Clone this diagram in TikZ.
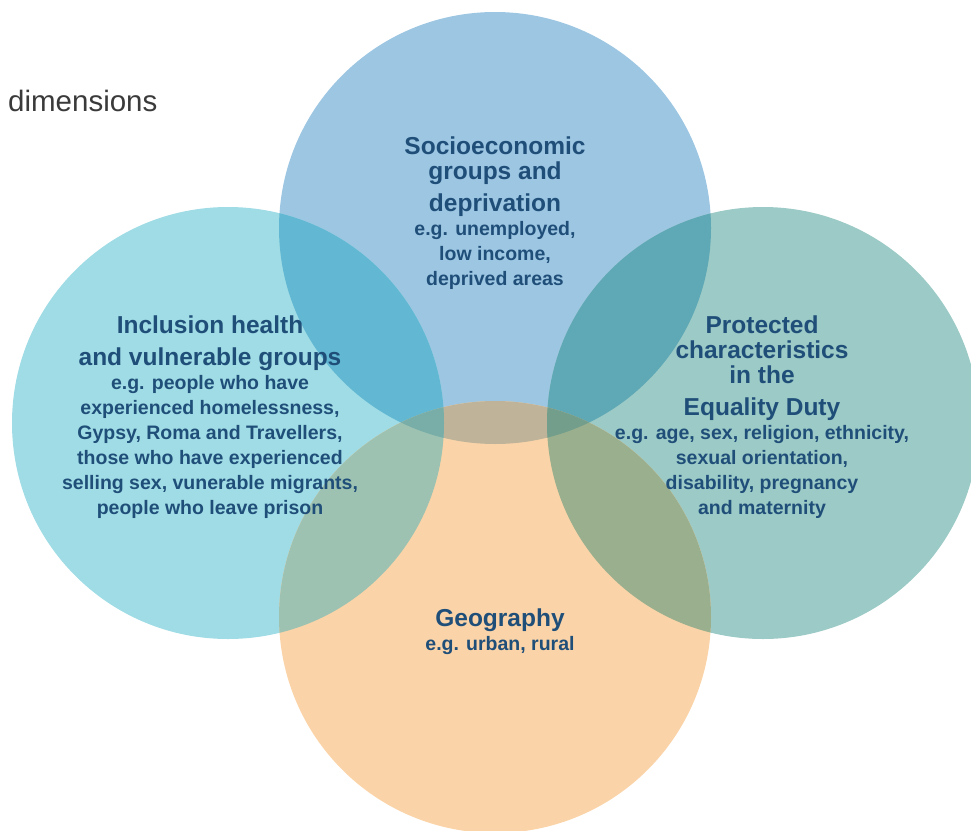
\documentclass[tikz,border=0pt]{standalone}
\usepackage{fontspec}
\setmainfont{Liberation Sans}
\usepackage{xcolor}
\definecolor{VDnavy}{HTML}{1F4E79}
\definecolor{VDgrey}{HTML}{3A3A3A}
% single circles
\definecolor{VDsocio}{HTML}{9DC6E2}
\definecolor{VDincl}{HTML}{A0DCE5}
\definecolor{VDprot}{HTML}{9CCAC6}
\definecolor{VDgeo}{HTML}{FAD4A8}
% overlaps
\definecolor{VDsocioIncl}{HTML}{62B8D3}
\definecolor{VDsocioProt}{HTML}{5FA8B5}
\definecolor{VDsocioGeo}{HTML}{BFB49A}
\definecolor{VDinclGeo}{HTML}{9DC2B1}
\definecolor{VDprotGeo}{HTML}{9AAF8E}
\definecolor{VDallIncl}{HTML}{78ADA8}
\definecolor{VDallProt}{HTML}{739E8C}
\usepackage{tikz}
\usetikzlibrary{positioning}

\begin{document}
\begin{tikzpicture}[x=1pt, y=-1pt,
  node distance=4pt,
  head/.style={font=\fontsize{24.5}{25}\selectfont\bfseries, text=VDnavy,
    align=center, inner sep=0pt},
  note/.style={font=\fontsize{19.5}{25}\selectfont\bfseries, text=VDnavy,
    align=center, inner sep=0pt}
]
\path[use as bounding box, clip] (0,0) rectangle (971,830);

\coordinate (socio) at (495,228);
\coordinate (incl) at (228,423);
\coordinate (prot) at (763,423);
\coordinate (geo) at (495,617);
\def\rad{216pt}

% the four circles
\fill[VDsocio] (socio) circle (\rad);
\fill[VDincl] (incl) circle (\rad);
\fill[VDprot] (prot) circle (\rad);
\fill[VDgeo] (geo) circle (\rad);

% pairwise overlaps
\begin{scope}
  \clip (socio) circle (\rad);
  \fill[VDsocioIncl] (incl) circle (\rad);
  \fill[VDsocioProt] (prot) circle (\rad);
  \fill[VDsocioGeo] (geo) circle (\rad);
\end{scope}
\begin{scope}
  \clip (geo) circle (\rad);
  \fill[VDinclGeo] (incl) circle (\rad);
  \fill[VDprotGeo] (prot) circle (\rad);
\end{scope}
% triple overlaps
\begin{scope}
  \clip (socio) circle (\rad);
  \clip (geo) circle (\rad);
  \fill[VDallIncl] (incl) circle (\rad);
  \fill[VDallProt] (prot) circle (\rad);
\end{scope}

\node[anchor=west, inner sep=0pt, text=VDgrey, font=\fontsize{29.5}{30}\selectfont] (dims) at (8,101) {dimensions};

\node[head, anchor=north] (sociohead) at (495,137) {Socioeconomic\\groups and\\[7pt]deprivation};
\node[note, below=of sociohead] (socionote) {e.g. unemployed,\\low income,\\deprived areas};

\node[head, anchor=north] (inclhead) at (210,316) {Inclusion health\\[7pt]and vulnerable groups};
\node[note, below=of inclhead] (inclnote) {e.g. people who have\\experienced homelessness,\\Gypsy, Roma and Travellers,\\those who have experienced\\selling sex, vunerable migrants,\\people who leave prison};

\node[head, anchor=north] (prothead) at (762,316) {Protected\\characteristics\\in the\\[7pt]Equality Duty};
\node[note, below=of prothead] (protnote) {e.g. age, sex, religion, ethnicity,\\sexual orientation,\\disability, pregnancy\\and maternity};

\node[head, anchor=north] (geohead) at (500,609) {Geography};
\node[note, below=of geohead] (geonote) {e.g. urban, rural};
\end{tikzpicture}
\end{document}
